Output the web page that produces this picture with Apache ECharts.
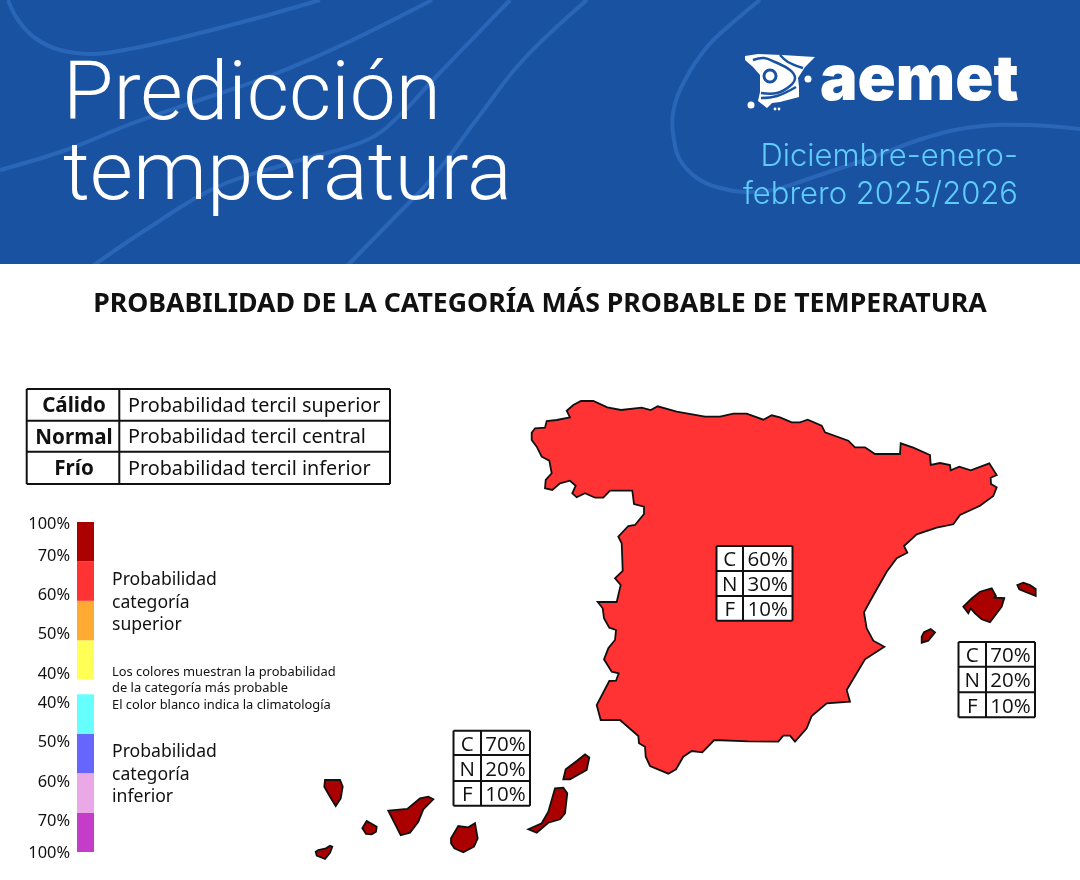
<!DOCTYPE html>
<html>
<head>
<meta charset="utf-8">
<title>Predicción temperatura</title>
<script src="https://cdn.jsdelivr.net/npm/echarts@6/dist/echarts.min.js"></script>
<style>
html, body { margin: 0; padding: 0; background: #fff; }
#main { width: 1080px; height: 880px; }
</style>
</head>
<body>
<div id="main"></div>
<script>
// datos de la prediccion
var categoryKeys = ['C', 'N', 'F'];
var regionNames = ['Peninsula', 'Baleares', 'Canarias'];
var probPeninsula = [60, 30, 10];
var probBaleares = [70, 20, 10];
var probCanarias = [70, 20, 10];

var tercileNames = ['Cálido', 'Normal', 'Frío'];
var tercileText = ['Probabilidad tercil superior', 'Probabilidad tercil central', 'Probabilidad tercil inferior'];

// escala de color, de abajo a arriba
var rampBands = [1, 1, 1, 1, 0.37, 1, 1, 1, 1];
var rampColors = ['#c43cc8', '#eba8e6', '#6666ff', '#66ffff', 'transparent', '#ffff55', '#ffaa33', '#ff3333', '#aa0000'];
var tickLabels = ['100%', '70%', '60%', '50%', '40%', '40%', '50%', '60%', '70%', '100%'];

// contornos en pixeles de la imagen
var outlinePeninsula = [[531.7,432.7],[535,428.3],[545,427.7],[546.7,421],[556.7,420],[570,417.3],[566.7,410.7],[573.3,405],[581,401],[593.3,401],[607.3,407.3],[621,410],[641.7,407.7],[650.7,410],[657.7,406.3],[676.7,411.7],[705,416.7],[720,416.7],[733.3,413.7],[746.7,413.7],[763.3,419.7],[771.7,415.3],[780,417.3],[791.7,422.3],[800,422.3],[807.7,419.7],[821.7,425.7],[825,432.3],[848.3,440.7],[855,447.3],[865,447.3],[875,454],[900,454],[900.7,443.3],[913.3,447.7],[930,455],[930.7,465],[940,463],[950,465],[950.7,470.3],[959.3,466.7],[970.7,470.3],[989.3,463.3],[996.7,475],[990.7,477.7],[991,484],[996.7,487.3],[993.3,496],[980,505.7],[960,515],[953.3,524.3],[936.7,527.7],[916.7,534.3],[904,546],[907.3,552.7],[896.7,558.3],[886.7,571.7],[870.7,600],[864,612.3],[866.7,628.3],[873.3,640.7],[884.3,646.7],[865,659.3],[846.7,690],[850,701.7],[826.7,703.3],[811.7,716],[806.7,728.3],[795,741.7],[790,735.7],[783.3,735.7],[778.3,741.7],[748.3,741.3],[714.3,740],[702.3,752.3],[691.7,751],[683.3,756.7],[676,769.3],[668.3,773.7],[650,766],[645.7,756.7],[645,746.7],[639,743.3],[638.3,736],[620,720],[600.7,720],[596.7,705],[609.3,681],[616,680.7],[618.7,673.3],[611.7,671.7],[604,659.3],[608.3,648.3],[615,640],[616,630],[609.3,627.7],[604,618.3],[602.7,608.3],[597.7,602],[616.7,602],[620.7,585],[615,578.3],[622.7,571],[621.7,543.3],[618.3,536.7],[628.3,526],[635,525],[644,514],[644,506.7],[634,504],[632.3,490.7],[610,490.7],[603.3,497.7],[595,497.7],[585,493.3],[576.7,497.3],[572.3,493.3],[575.7,485.7],[570,480.7],[560,483.3],[552.3,490],[545,488.3],[545.7,480],[551.7,473.3],[549.3,460.7],[541.7,456.7],[536.7,446.7],[531.7,440]];
var outlineBaleares = [
  [[963.3,606.7],[971.7,598.3],[980,591.7],[991.7,588.3],[996,596],[994.3,597.7],[1004.3,598],[1001.7,606.7],[990,622.3],[981.7,619.3],[975,613.3],[970.7,608.3],[968.3,613.3]],
  [[1017.3,585],[1023.3,582.7],[1030,585],[1035.7,589],[1035.7,596],[1025,591.7],[1019.3,589.3]],
  [[921.7,636.7],[924,632.3],[930.7,629],[935,632.3],[928.3,640.7],[921.7,642.7]]
];
var outlineCanarias = [
  [[325,780],[340,780],[342.7,786.7],[340.7,798.3],[335.7,806],[330,796.7],[324.3,786.7]],
  [[362.3,828.3],[366.7,821],[376.7,826.7],[376,831.7],[371.7,834.3],[366,834]],
  [[315.7,851.7],[318.3,850],[326,848.3],[330,845.7],[332.3,846.7],[330,852.7],[325,859],[316.7,855.7]],
  [[388.3,810.7],[407.3,809],[420,798.3],[428.3,796.7],[433.3,799.3],[423.3,809.3],[418.3,821.7],[410,832.7],[400.7,835.3]],
  [[451,838.3],[458.3,826],[468.3,827.3],[475,823.3],[477.7,838.3],[474,846.7],[463.3,852.3],[454.3,848.3],[451,843.3]],
  [[528.3,829.3],[541.7,823.3],[548.3,811.7],[555,788.3],[563.3,787.7],[567.3,793.3],[565,813.3],[560,819.3],[548.3,822.7],[536.7,832.7]],
  [[563.3,779.3],[565.7,769.3],[576.7,761],[585,754.3],[589.3,757.3],[586.7,770],[570,779.3]]
];

function toGeo(ring) {
  var r = ring.map(function (p) { return [p[0], 880 - p[1]]; });
  r.push(r[0]);
  return [r];
}
var spainGeo = {
  type: 'FeatureCollection',
  features: [
    { type: 'Feature', properties: { name: regionNames[0] }, geometry: { type: 'Polygon', coordinates: toGeo(outlinePeninsula) } },
    { type: 'Feature', properties: { name: regionNames[1] }, geometry: { type: 'MultiPolygon', coordinates: outlineBaleares.map(toGeo) } },
    { type: 'Feature', properties: { name: regionNames[2] }, geometry: { type: 'MultiPolygon', coordinates: outlineCanarias.map(toGeo) } }
  ]
};
echarts.registerMap('espana', spainGeo);

var bodyFont = '"Noto Sans", sans-serif';
var tableFont = '"Open Sans", sans-serif';
var titleFont = 'Roboto, sans-serif';
var dateFont = 'Inter, sans-serif';
var graphic = [];

function txt(s, x, y, size, o) {
  o = o || {};
  graphic.push({
    type: 'text', x: x, y: y, z: o.z || 20, scaleX: o.sx || 1,
    style: {
      text: s, fill: o.color || '#111', font: (o.weight || 'normal') + ' ' + size + 'px ' + (o.font || bodyFont),
      align: o.align || 'left', verticalAlign: 'middle'
    }
  });
}
function line(x1, y1, x2, y2, w, color) {
  graphic.push({ type: 'line', z: 15, shape: { x1: x1, y1: y1, x2: x2, y2: y2 }, style: { stroke: color || '#111', lineWidth: w || 2 } });
}
function curve(points, w, color, fill, smooth) {
  graphic.push({
    type: fill ? 'polygon' : 'polyline', z: 3,
    shape: { points: points, smooth: smooth === undefined ? 0.4 : smooth },
    style: { stroke: color, lineWidth: w, fill: fill || null }
  });
}

// cabecera
graphic.push({ type: 'rect', z: 1, shape: { x: 0, y: 0, width: 1080, height: 264 }, style: { fill: '#1a52a2' } });
var waveColor = '#2a66b8';
curve([[8,0],[18,20],[35,38],[60,50],[95,54],[135,48],[180,38],[250,20],[320,0]], 4, waveColor);
curve([[0,170],[66,150],[133,123],[200,100],[267,77],[320,55],[367,33],[432,0]], 4, waveColor);
curve([[87,270],[150,227],[217,187],[290,163],[367,140],[400,115],[433,80],[510,0]], 4, waveColor);
curve([[343,270],[390,222],[433,177],[480,115],[523,60],[587,0]], 4, waveColor);
curve([[760,0],[730,25],[707,47],[685,80],[673,113],[674,140],[680,160],[697,178],[720,188],[745,192],[773,190],[820,175],[873,157],[925,138],[973,127],[1030,125],[1080,129]], 4, waveColor);
// lo de abajo de la cabecera queda en blanco
graphic.push({ type: 'rect', z: 4, shape: { x: 0, y: 264, width: 1080, height: 616 }, style: { fill: '#fff' } });

txt('Predicción', 63, 98, 82, { color: '#fff', font: titleFont, weight: 300, z: 6 });
txt('temperatura', 63, 178, 82, { color: '#fff', font: titleFont, weight: 300, sx: 1.018, z: 6 });
txt('Diciembre-enero-', 1018, 157, 31, { color: '#5fcdfb', font: dateFont, weight: 300, align: 'right', z: 6 });
txt('febrero 2025/2026', 1018, 195, 31, { color: '#5fcdfb', font: dateFont, weight: 300, align: 'right', z: 6 });

// logo
curve([[745,56],[758,54],[782,55],[815,57],[805,67],[798,78],[799,87],[799,97],[780,102],[772,103],[767,108],[758,101],[760,92],[760,75],[753,67],[745,60]], 0, '#fff', '#fff', 0);
var logoBlue = '#1a52a2';
curve([[753,60],[764,58],[775,62],[790,70],[795,78],[790,86],[777,93],[761,93]], 2.5, logoBlue);
curve([[780,55],[788,62],[803,68]], 2.5, logoBlue);
curve([[761,98],[777,96],[796,87]], 2.5, logoBlue);
graphic.push({ type: 'ring', z: 4, shape: { cx: 770, cy: 76, r: 7.5, r0: 4.5 }, style: { fill: logoBlue } });
[[751,105,3.5],[808,79,3.5],[775,109,1.4],[779,109,1.4]].forEach(function (d) {
  graphic.push({ type: 'circle', z: 4, shape: { cx: d[0], cy: d[1], r: d[2] }, style: { fill: '#fff' } });
});
txt('aemet', 820, 81, 63, { color: '#fff', font: 'Inter, sans-serif', weight: 900, z: 6 });

// titulo
txt('PROBABILIDAD DE LA CATEGORÍA MÁS PROBABLE DE TEMPERATURA', 540, 304, 26.7, { weight: 'bold', align: 'center' });

// tabla de terciles
var tercileRows = [389, 420.7, 451.7, 484];
tercileRows.forEach(function (y) { line(26.7, y, 390, y, 2); });
[26.7, 119.3, 390].forEach(function (x) { line(x, 389, x, 484, 2); });
tercileNames.forEach(function (n, i) {
  var cy = (tercileRows[i] + tercileRows[i + 1]) / 2;
  txt(n, 74, cy + 1.5, 20.6, { weight: 'bold', align: 'center' });
  txt(tercileText[i], 128, cy + 1.5, 19.8);
});

// etiquetas de la escala
var tickY = [524, 556, 595, 634, 674, 703, 742, 782, 821, 853];
tickLabels.forEach(function (t, i) { txt(t, 70, tickY[i], 16.4, { align: 'right' }); });
['Probabilidad', 'categoría', 'superior'].forEach(function (s, i) { txt(s, 112, 580 + i * 22.5, 17.6); });
['Probabilidad', 'categoría', 'inferior'].forEach(function (s, i) { txt(s, 112, 752 + i * 22.5, 17.6); });
['Los colores muestran la probabilidad', 'de la categoría más probable', 'El color blanco indica la climatología'].forEach(function (s, i) {
  txt(s, 112, 672 + i * 16.5, 12.9);
});

// tablas C/N/F
function probTable(probs, left, col, right, rows) {
  graphic.push({ type: 'rect', z: 14, shape: { x: left, y: rows[0], width: right - left, height: rows[3] - rows[0] }, style: { fill: '#fff' } });
  rows.forEach(function (y) { line(left, y, right, y, 2); });
  [left, col, right].forEach(function (x) { line(x, rows[0], x, rows[3], 2); });
  categoryKeys.forEach(function (k, i) {
    var cy = (rows[i] + rows[i + 1]) / 2 + 2;
    txt(k, (left + col) / 2, cy, 20.5, { align: 'center', font: tableFont });
    txt(probs[i] + '%', (col + right) / 2, cy, 20.5, { align: 'center', font: tableFont });
  });
}
probTable(probPeninsula, 716.5, 743, 792.5, [546, 571, 596, 620.7]);
probTable(probBaleares, 958.5, 986, 1035, [642, 666.7, 692.3, 717.3]);
probTable(probCanarias, 453.5, 481, 530, [730.7, 755, 781, 805.7]);

var myChart = echarts.init(document.getElementById('main'));
var option = {
  animation: false,
  backgroundColor: '#fff',
  graphic: { elements: graphic },
  visualMap: {
    show: false,
    type: 'piecewise',
    seriesIndex: 0,
    pieces: [
      { min: 40, max: 49.9, color: rampColors[5] },
      { min: 50, max: 59.9, color: rampColors[6] },
      { min: 60, max: 69.9, color: rampColors[7] },
      { min: 70, max: 100, color: rampColors[8] }
    ]
  },
  grid: { left: 77, top: 522, width: 17, height: 330, containLabel: false },
  xAxis: { type: 'category', data: ['escala'], show: false },
  yAxis: { type: 'value', show: false, min: 0, max: rampBands.reduce(function (a, b) { return a + b; }, 0) },
  series: [{
    type: 'map',
    map: 'espana',
    silent: true,
    aspectScale: 1,
    boundingCoords: [[0, 880], [1080, 0]],
    left: 0, top: 0, width: 1080, height: 880,
    z: 5,
    roam: false,
    label: { show: false },
    emphasis: { disabled: true },
    select: { disabled: true },
    itemStyle: { borderColor: '#111', borderWidth: 1.8 },
    data: [
      { name: regionNames[0], value: Math.max.apply(null, probPeninsula) },
      { name: regionNames[1], value: Math.max.apply(null, probBaleares) },
      { name: regionNames[2], value: Math.max.apply(null, probCanarias) }
    ]
  }].concat(rampBands.map(function (v, i) {
    return {
      type: 'bar', stack: 'rampa', silent: true, barWidth: '100%', z: 5,
      itemStyle: { color: rampColors[i] }, data: [v]
    };
  }))
};
myChart.setOption(option);
</script>
</body>
</html>
